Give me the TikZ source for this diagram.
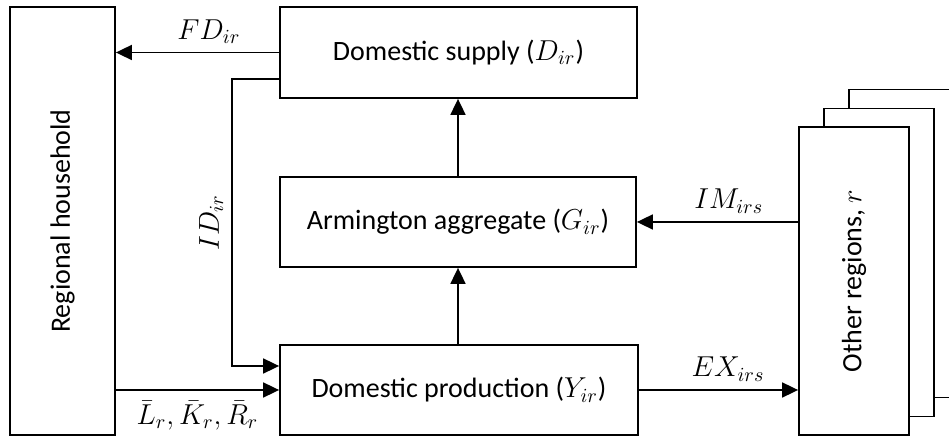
\documentclass[tikz,border=0pt]{standalone}
\usepackage{fontspec}
\setmainfont{Carlito}
\usetikzlibrary{arrows.meta,calc}

\begin{document}
\begin{tikzpicture}[x=0.5pt, y=-0.5pt, line width=0.9pt,
  box/.style={draw, fill=white, inner sep=0pt, font=\fontsize{14}{16}\selectfont},
  arr/.style={-{Triangle[length=8pt,width=7.5pt]}},
  lab/.style={font=\fontsize{14}{16}\selectfont, inner sep=4pt}]
  %%%%% START %%%%%
  \useasboundingbox (0,0) rectangle (949,437);
  \clip (0,0) rectangle (949,437);

  \node[box, minimum width=52.5pt, minimum height=214pt] (household) at (62.5,221) {\rotatebox{90}{Regional household}};

  \node[box, minimum width=178.5pt, minimum height=45.5pt] (supply) at (458.5,52.5) {Domestic supply ($D_{ir}$)};
  \node[box, minimum width=178pt, minimum height=45pt] (armington) at (458,222) {Armington aggregate ($G_{ir}$)};
  \node[box, minimum width=179pt, minimum height=45pt] (production) at (459,390) {Domestic production ($Y_{ir}$)};

  \node[box, minimum width=55pt, minimum height=154pt] (region3) at (904,243.5) {};
  \node[box, minimum width=55pt, minimum height=154pt] (region2) at (879,262.5) {};
  \node[box, minimum width=55pt, minimum height=154pt] (region1) at (854,281) {\rotatebox{90}{Other regions, $r$}};

  \draw[arr] (supply.west) -- node[lab, pos=.43, above] {$FD_{ir}$} (supply.west -| household.east);
  \draw[arr] ($(supply.west)+(0,26.5)$) -- (232,79) -- node[lab, midway, rotate=90, anchor=south] {$ID_{ir}$} (232,366) -- ($(production.west)+(0,-24)$);
  \draw[arr] (household.east |- production.west) -- node[lab, midway, below, inner sep=5pt] {$\bar{L}_r,\bar{K}_r,\bar{R}_r$} (production.west);

  \draw[arr] (armington.south |- production.north) -- (armington.south);
  \draw[arr] (armington.north) -- (armington.north |- supply.south);

  \draw[arr] (armington.east -| region1.west) -- node[lab, pos=.43, above] {$IM_{irs}$} (armington.east);
  \draw[arr] (production.east) -- node[lab, pos=.56, above] {$EX_{irs}$} (production.east -| region1.west);
  %%%%% END %%%%%
\end{tikzpicture}
\end{document}
